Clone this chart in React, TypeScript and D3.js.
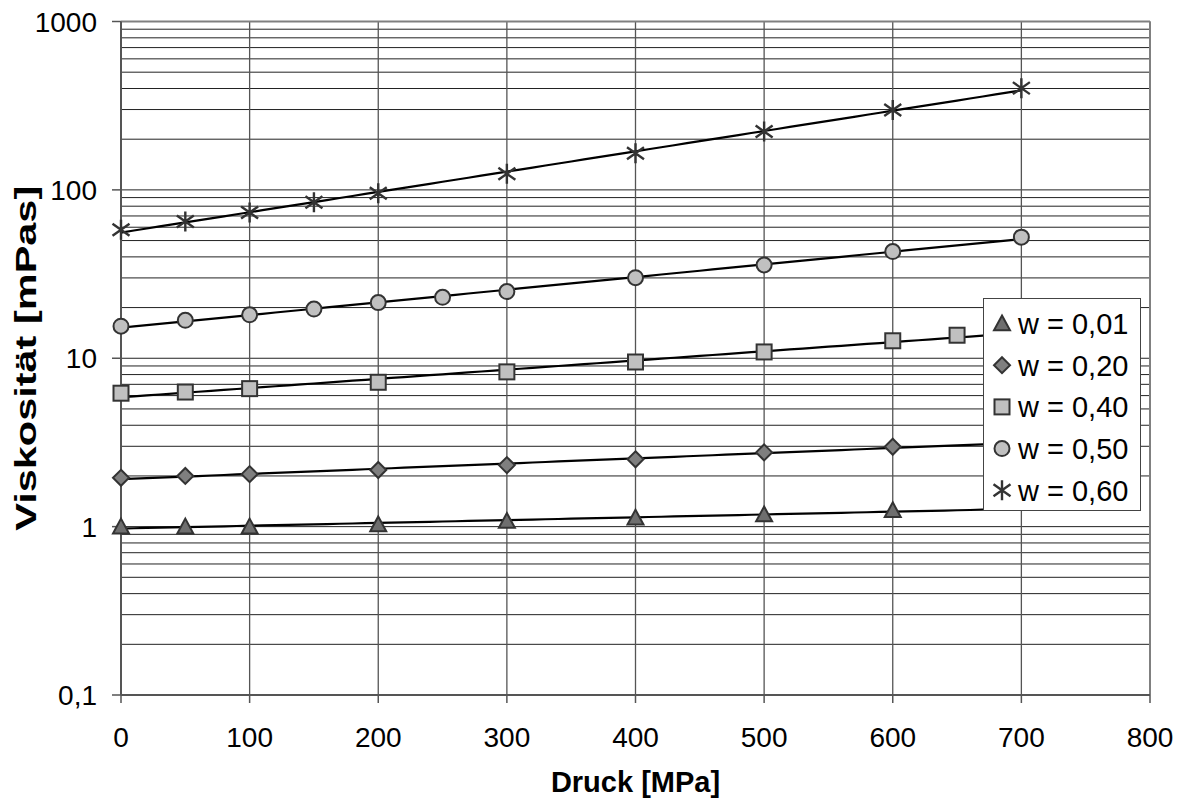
import React from "react";
import * as d3 from "d3";

const W = 1181;
const H = 799;

const xTicks = [0, 100, 200, 300, 400, 500, 600, 700, 800];
const yTicks = [0.1, 1, 10, 100, 1000];
const yTickLabels = ["0,1", "1", "10", "100", "1000"];

const seriesNames = ["w = 0,01", "w = 0,20", "w = 0,40", "w = 0,50", "w = 0,60"];

const triX = [0, 50, 100, 200, 300, 400, 500, 600];
const triY = [1.0, 1.0, 1.0, 1.03, 1.08, 1.13, 1.18, 1.25];

const diaX = [0, 50, 100, 200, 300, 400, 500, 600];
const diaY = [1.95, 2.0, 2.05, 2.17, 2.32, 2.51, 2.76, 2.98];

const sqX = [0, 50, 100, 200, 300, 400, 500, 600, 650];
const sqY = [6.2, 6.3, 6.6, 7.2, 8.3, 9.5, 10.9, 12.7, 13.7];

const circX = [0, 50, 100, 150, 200, 250, 300, 400, 500, 600, 700];
const circY = [15.5, 16.8, 18.1, 19.6, 21.4, 23.0, 24.9, 30.1, 35.8, 43.0, 52.4];

const starX = [0, 50, 100, 150, 200, 300, 400, 500, 600, 700];
const starY = [57.9, 64.8, 73.3, 84.5, 95.6, 124.5, 165, 222, 298, 402];

const trendRange = [0, 700];

const FONT = "'Liberation Sans', Arial, sans-serif";

type Kind = "tri" | "dia" | "sq" | "circ" | "star";

const series: { kind: Kind; xs: number[]; ys: number[] }[] = [
  { kind: "tri", xs: triX, ys: triY },
  { kind: "dia", xs: diaX, ys: diaY },
  { kind: "sq", xs: sqX, ys: sqY },
  { kind: "circ", xs: circX, ys: circY },
  { kind: "star", xs: starX, ys: starY },
];

function expFit(xs: number[], ys: number[]) {
  const ls = ys.map((v) => Math.log(v));
  const n = xs.length;
  const mx = d3.mean(xs)!;
  const my = d3.mean(ls)!;
  let sxy = 0;
  let sxx = 0;
  for (let i = 0; i < n; i++) {
    sxy += (xs[i] - mx) * (ls[i] - my);
    sxx += (xs[i] - mx) * (xs[i] - mx);
  }
  const b = sxy / sxx;
  const a = my - b * mx;
  return (x: number) => Math.exp(a + b * x);
}

function Marker({ kind, cx, cy }: { kind: Kind; cx: number; cy: number }) {
  const s = 8;
  if (kind === "tri") {
    const p = `M${cx},${cy - s} L${cx + s},${cy + s * 0.85} L${cx - s},${cy + s * 0.85} Z`;
    return <path d={p} fill="#6e6e6e" stroke="#333" strokeWidth={2} strokeLinejoin="miter" />;
  }
  if (kind === "dia") {
    const p = `M${cx},${cy - s} L${cx + s},${cy} L${cx},${cy + s} L${cx - s},${cy} Z`;
    return <path d={p} fill="#7f7f7f" stroke="#333" strokeWidth={2} />;
  }
  if (kind === "sq") {
    return <rect x={cx - 7.5} y={cy - 7.5} width={15} height={15} fill="#c0c0c0" stroke="#333" strokeWidth={2} />;
  }
  if (kind === "circ") {
    return <circle cx={cx} cy={cy} r={7.5} fill="#c0c0c0" stroke="#333" strokeWidth={2} />;
  }
  const r = 10;
  const p = `M${cx - r * 0.85},${cy - r * 0.6} L${cx + r * 0.85},${cy + r * 0.6} M${cx - r * 0.85},${cy + r * 0.6} L${cx + r * 0.85},${cy - r * 0.6} M${cx},${cy - r} L${cx},${cy + r}`;
  return <path d={p} fill="none" stroke="#333" strokeWidth={2.4} />;
}

export default function App() {
  const left = 121;
  const right = 1150;
  const top = 21.5;
  const bottom = 695;

  const x = d3.scaleLinear().domain([0, 800]).range([left, right]);
  const y = d3.scaleLog().domain([0.1, 1000]).range([bottom, top]);

  const minor: number[] = [];
  for (let e = -1; e <= 2; e++) {
    for (let m = 2; m <= 9; m++) minor.push(m * Math.pow(10, e));
  }

  const legendX = 983.5;
  const legendY = 298.5;
  const legendW = 157;
  const legendH = 212;

  return (
    <svg
      width={W}
      height={H}
      style={{ position: "absolute", left: 0, top: 0, background: "#fff" }}
      fontFamily={FONT}
    >
      <rect x={0} y={0} width={W} height={H} fill="#fff" />
      {/* horizontal gridlines */}
      {minor.map((v) => (
        <line key={"mn" + v} x1={left} x2={right} y1={y(v)} y2={y(v)} stroke="#222" strokeWidth={1} />
      ))}
      {yTicks.map((v) => (
        <line key={"mj" + v} x1={left} x2={right} y1={y(v)} y2={y(v)} stroke="#222" strokeWidth={1} />
      ))}
      {/* vertical gridlines */}
      {xTicks.map((v) => (
        <line key={"vx" + v} x1={x(v)} x2={x(v)} y1={top} y2={bottom} stroke="#555" strokeWidth={1.3} />
      ))}
      {/* plot border top / right */}
      <line x1={left} x2={right} y1={top} y2={top} stroke="#808080" strokeWidth={2} />
      <line x1={right} x2={right} y1={top} y2={bottom} stroke="#808080" strokeWidth={2} />
      {/* axes */}
      <line x1={left} x2={left} y1={top} y2={bottom} stroke="#555" strokeWidth={2} />
      <line x1={left} x2={right} y1={bottom} y2={bottom} stroke="#555" strokeWidth={2} />
      {yTicks.map((v) => (
        <line key={"yt" + v} x1={left - 9} x2={left} y1={y(v)} y2={y(v)} stroke="#555" strokeWidth={1.5} />
      ))}
      {xTicks.map((v) => (
        <line key={"xt" + v} x1={x(v)} x2={x(v)} y1={bottom} y2={bottom + 8} stroke="#555" strokeWidth={1.5} />
      ))}
      {/* tick labels */}
      {yTicks.map((v, i) => (
        <text key={"yl" + v} x={97} y={y(v)} dy="0.36em" textAnchor="end" fontSize={28} fill="#000">
          {yTickLabels[i]}
        </text>
      ))}
      {xTicks.map((v) => (
        <text key={"xl" + v} x={x(v)} y={747} textAnchor="middle" fontSize={28} fill="#000">
          {String(v)}
        </text>
      ))}
      {/* axis titles */}
      <text x={(left + right) / 2} y={792} textAnchor="middle" fontSize={29} fontWeight="bold" fill="#000">
        Druck [MPa]
      </text>
      <text
        transform={`translate(36,${(top + bottom) / 2}) rotate(-90)`}
        textAnchor="middle"
        fontSize={30}
        fontWeight="bold"
        fill="#000"
        textLength={345}
        lengthAdjust="spacingAndGlyphs"
      >
        Viskosität [mPas]
      </text>
      {/* trendlines */}
      {series.map((s, i) => {
        const f = expFit(s.xs, s.ys);
        const pts = d3.range(trendRange[0], trendRange[1] + 1, 10);
        const p = d3
          .line<number>()
          .x((d) => x(d))
          .y((d) => y(f(d)))(pts);
        return <path key={"tl" + i} d={p || ""} fill="none" stroke="#000" strokeWidth={2.2} />;
      })}
      {/* markers */}
      {series.map((s, i) =>
        s.xs.map((xv, j) => <Marker key={`m${i}-${j}`} kind={s.kind} cx={x(xv)} cy={y(s.ys[j])} />)
      )}
      {/* legend */}
      <rect x={legendX} y={legendY} width={legendW} height={legendH} fill="#fff" stroke="#444" strokeWidth={1} />
      {series.map((s, i) => {
        const cy = legendY + 25 + i * 41.7;
        return (
          <g key={"lg" + i}>
            <Marker kind={s.kind} cx={1002} cy={cy} />
            <text x={1018} y={cy} dy="0.36em" fontSize={29} fill="#000">
              {seriesNames[i]}
            </text>
          </g>
        );
      })}
    </svg>
  );
}
